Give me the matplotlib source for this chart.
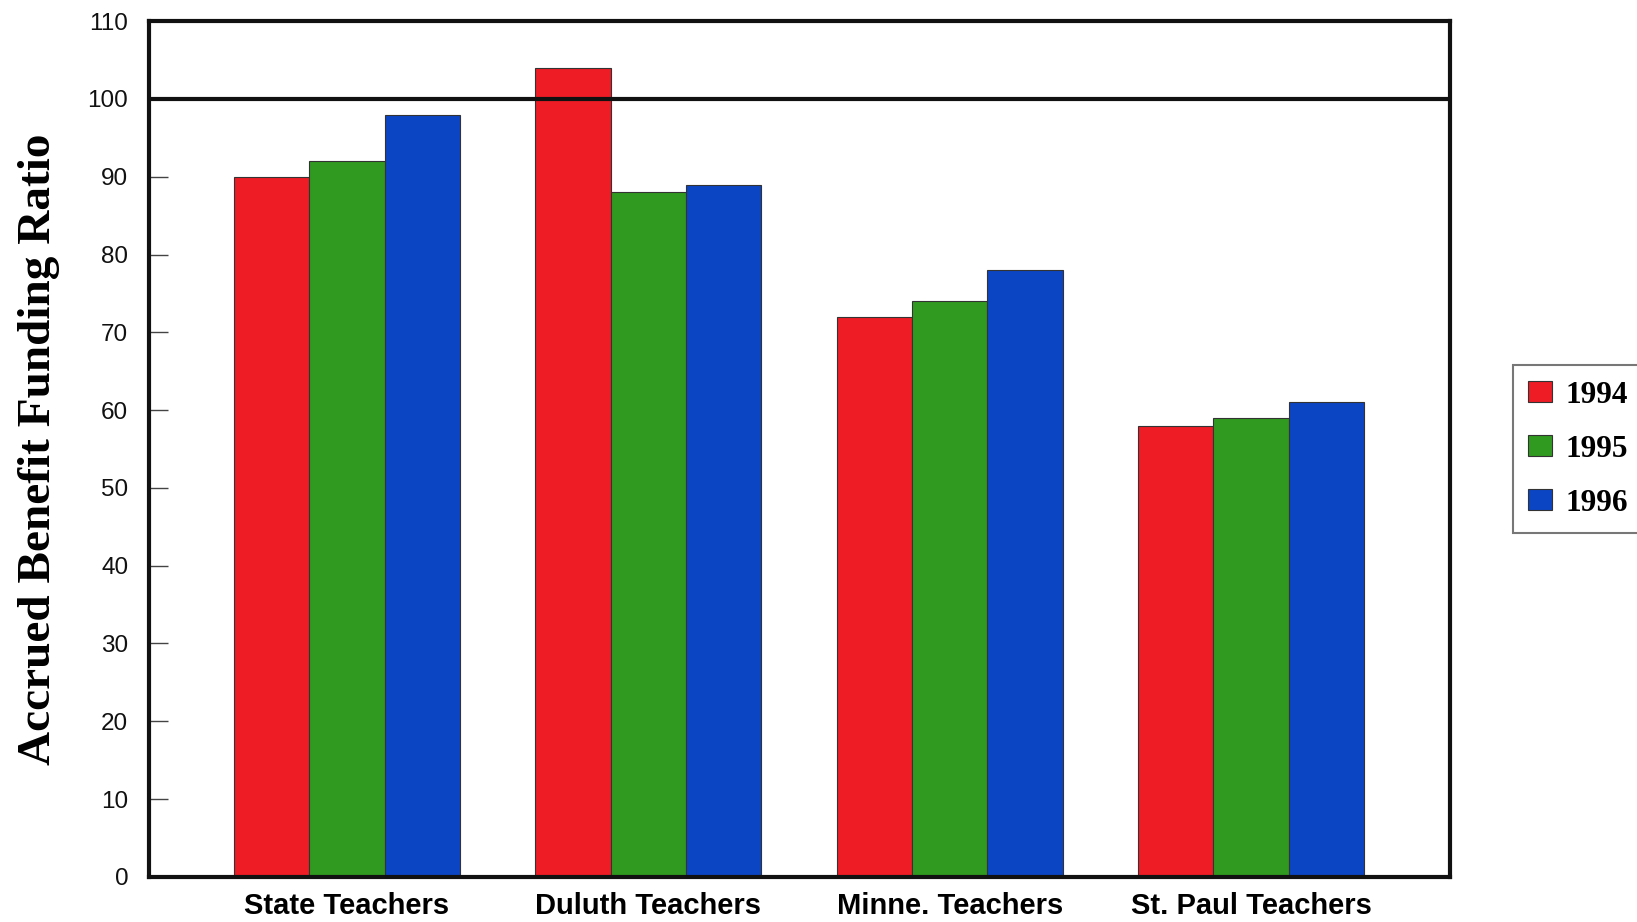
import numpy as np
import matplotlib.pyplot as plt
from matplotlib.patches import Patch

systems = ['State Teachers', 'Duluth Teachers', 'Minne. Teachers', 'St. Paul Teachers']
years = ['1994', '1995', '1996']
ratio_1994 = [90, 104, 72, 58]
ratio_1995 = [92, 88, 74, 59]
ratio_1996 = [98, 89, 78, 61]

colors = ['#ee1c25', '#2f9a1f', '#0b45c4']

fig = plt.figure(figsize=(16.37, 9.22), dpi=100)
ax = fig.add_axes([0.091, 0.049, 0.795, 0.928])

x = np.arange(len(systems))
w = 0.25
for i, (vals, c) in enumerate(zip([ratio_1994, ratio_1995, ratio_1996], colors)):
    ax.bar(x + (i - 1) * w, vals, w, color=c, edgecolor='#333333', linewidth=0.8, zorder=2)

# full funding line
ax.axhline(100, color='#111111', linewidth=3, zorder=3)

ax.set_ylim(0, 110)
ax.set_xlim(-0.657, 3.661)
ax.set_yticks(range(0, 111, 10))
ax.set_xticks(x)
ax.set_xticklabels(systems, fontfamily='Liberation Sans', fontweight='bold', fontsize=21)
ax.tick_params(axis='y', direction='in', length=14, width=1, color='#444444',
               labelsize=17.5, pad=15)
ax.tick_params(axis='x', length=0, pad=11)
for lbl in ax.get_yticklabels():
    lbl.set_fontfamily('Liberation Sans')
    lbl.set_color('#111111')

for s in ax.spines.values():
    s.set_linewidth(3)
    s.set_color('#111111')

ax.set_ylabel('Accrued Benefit Funding Ratio', fontfamily='Liberation Serif',
              fontweight='bold', fontsize=34, labelpad=20)

handles = [Patch(facecolor=c, edgecolor='#333333', linewidth=0.8) for c in colors]
leg = fig.legend(handles, years, loc='center left', bbox_to_anchor=(0.924, 0.513),
                 borderaxespad=0,
                 prop={'family': 'Liberation Serif', 'weight': 'bold', 'size': 22.5},
                 handlelength=0.75, handleheight=0.65, handletextpad=0.45,
                 labelspacing=0.8, borderpad=0.5, fancybox=False,
                 frameon=True, edgecolor='#555555')
leg.get_frame().set_linewidth(1.5)

fig.savefig('out.png', dpi=100)
